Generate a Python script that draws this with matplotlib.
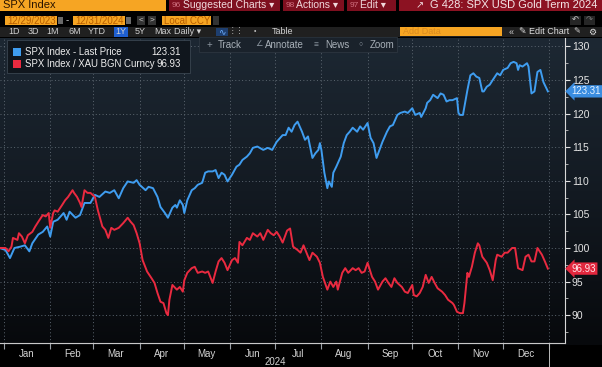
import numpy as np
import pandas as pd
import matplotlib
matplotlib.use('Agg')
import matplotlib.pyplot as plt
import matplotlib.dates as mdates
from matplotlib.patches import Rectangle
from matplotlib.colors import LinearSegmentedColormap
from matplotlib.transforms import blended_transform_factory

# data (days since 2024-01-01, rebased to 100)
blue_day = [-3, 1, 4, 7, 11, 14, 17, 19, 23, 26, 29, 31, 33, 36, 40, 42, 44, 48, 51, 54,
            58, 61, 64, 68, 71, 74, 77, 80, 83, 87, 89, 91, 95, 97, 100, 103, 105, 108, 110, 113,
            115, 116, 118, 120, 121, 123, 126, 128, 130, 133, 135, 137, 140, 142, 144, 146, 148, 150, 153, 156,
            158, 160, 163, 165, 167, 170, 174, 177, 180, 183, 187, 189, 191, 193, 195, 197, 200, 202, 204, 207,
            209, 211, 212, 213, 215, 217, 218, 220, 221, 223, 226, 228, 230, 232, 234, 237, 239, 241, 244, 246,
            248, 250, 252, 254, 257, 259, 261, 264, 266, 269, 271, 274, 276, 279, 280, 283, 284, 286, 288, 291,
            293, 295, 297, 299, 301, 304, 305, 306, 308, 311, 313, 315, 317, 319, 321, 322, 324, 326, 328, 331,
            333, 335, 338, 340, 342, 344, 345, 346, 348, 351, 352, 354, 356, 358, 360, 362, 365]
blue_val = [100.0, 99.7, 98.5, 100.0, 100.2, 100.4, 99.5, 100.7, 102.0, 102.4, 103.2, 101.7, 103.9, 104.2, 105.2, 104.2, 105.4, 104.5, 104.9, 106.7,
            106.7, 107.9, 107.6, 108.4, 108.2, 108.6, 107.4, 108.9, 109.9, 109.7, 110.1, 109.4, 108.6, 109.1, 108.9, 107.6, 106.1, 105.2, 104.5, 106.0,
            106.4, 106.0, 107.1, 106.4, 105.2, 107.1, 108.6, 108.9, 109.4, 109.7, 111.2, 111.4, 111.4, 111.6, 110.4, 111.2, 110.9, 109.9, 110.9, 112.1,
            112.4, 113.1, 113.6, 114.1, 114.9, 115.1, 114.6, 114.9, 114.6, 115.8, 116.8, 116.8, 117.9, 117.3, 118.3, 118.8, 117.3, 116.1, 116.6, 113.4,
            114.1, 114.6, 115.6, 114.6, 111.2, 108.9, 109.9, 109.1, 111.2, 112.1, 113.6, 115.6, 116.8, 117.3, 117.9, 117.3, 118.1, 117.6, 118.6, 116.4,
            115.6, 113.4, 114.6, 115.8, 117.3, 118.1, 118.3, 119.8, 120.1, 120.3, 120.1, 120.8, 119.8, 120.1, 119.5, 120.8, 121.6, 122.0, 122.8, 122.3,
            123.0, 122.8, 121.8, 122.0, 122.0, 122.3, 120.1, 119.8, 119.8, 123.5, 125.7, 126.0, 125.5, 125.3, 123.3, 123.3, 124.0, 124.3, 125.0, 126.0,
            125.7, 126.5, 126.8, 127.5, 127.7, 127.5, 126.5, 127.2, 127.0, 127.5, 127.0, 123.0, 123.3, 126.2, 126.5, 124.7, 123.31]

red_day = [-3, 1, 3, 5, 6, 9, 10, 12, 14, 16, 19, 21, 23, 26, 28, 30, 31, 33, 34, 36,
           39, 41, 43, 46, 47, 49, 51, 52, 54, 56, 58, 61, 63, 66, 68, 70, 72, 74, 77, 80,
           83, 85, 87, 89, 91, 93, 96, 99, 101, 103, 105, 107, 109, 110, 111, 113, 116, 118, 120, 121,
           123, 126, 128, 130, 133, 135, 137, 140, 142, 144, 146, 148, 150, 153, 155, 157, 158, 160, 163, 165,
           167, 170, 172, 174, 177, 179, 181, 183, 185, 187, 190, 192, 194, 197, 199, 201, 203, 205, 207, 210,
           212, 214, 217, 219, 221, 223, 224, 227, 229, 231, 234, 236, 238, 240, 242, 244, 247, 249, 251, 254,
           256, 258, 260, 262, 264, 267, 269, 271, 274, 275, 277, 279, 281, 283, 285, 287, 289, 291, 294, 296,
           298, 301, 302, 304, 306, 308, 309, 311, 312, 314, 316, 318, 319, 321, 324, 326, 328, 330, 331, 334,
           336, 338, 341, 343, 345, 348, 350, 352, 354, 356, 358, 361, 363, 365]
red_val = [100.0, 100.0, 99.5, 100.2, 101.5, 101.2, 102.2, 101.7, 100.7, 101.9, 102.4, 103.2, 103.9, 104.9, 104.7, 105.2, 103.0, 105.2, 105.6, 105.4,
           106.4, 107.1, 107.6, 108.6, 108.2, 107.6, 106.7, 106.1, 108.6, 108.2, 108.2, 107.6, 105.6, 103.2, 102.7, 101.5, 103.0, 102.7, 103.0, 103.7,
           104.5, 103.9, 103.4, 102.2, 100.7, 98.2, 96.5, 95.5, 94.8, 93.3, 92.0, 91.8, 90.3, 90.0, 92.3, 94.5, 93.8, 94.2, 93.5, 95.2,
           96.3, 97.0, 97.2, 96.3, 96.5, 96.3, 96.5, 94.8, 96.5, 98.0, 98.5, 97.8, 96.7, 98.2, 98.5, 97.8, 100.9, 100.4, 101.5, 101.2,
           102.2, 101.7, 102.2, 101.2, 102.7, 102.2, 101.9, 102.4, 101.7, 100.8, 102.6, 102.9, 100.2, 99.7, 99.3, 100.4, 99.3, 98.2, 99.3, 98.7,
           97.8, 95.7, 93.8, 95.0, 94.2, 95.0, 93.8, 96.3, 97.0, 96.3, 97.0, 96.7, 97.0, 96.3, 96.5, 97.8, 95.7, 95.0, 93.8, 95.0,
           95.5, 94.8, 94.2, 95.5, 94.8, 94.2, 93.5, 93.3, 94.5, 93.0, 92.8, 93.3, 94.2, 96.0, 94.8, 95.7, 94.8, 94.0, 93.5, 93.0,
           92.3, 91.8, 91.5, 90.5, 90.3, 90.3, 91.8, 96.3, 95.7, 97.2, 99.3, 100.7, 100.4, 98.7, 97.8, 96.7, 95.2, 98.2, 99.0, 98.7,
           99.3, 99.3, 100.0, 100.0, 97.0, 96.7, 98.7, 99.0, 98.0, 98.0, 100.0, 99.0, 98.0, 96.93]

blue_name = 'SPX Index - Last Price'
red_name = 'SPX Index / XAU BGN Curncy'
y_ticks = [90, 95, 100, 105, 110, 115, 120, 125, 130]

BLUE = '#3f9df0'
RED = '#ea2a40'
ORANGE = '#f6a523'
DARKRED = '#7e0f1f'
FONT = ['Liberation Sans', 'DejaVu Sans']
plt.rcParams['font.family'] = FONT

W, H = 602, 367
fig = plt.figure(figsize=(W / 100, H / 100), dpi=100, facecolor='black')


def box(x, y, w, h, color, ec='none', z=1):
    # rectangle in screen pixels (y from the top)
    fig.patches.append(Rectangle((x / W, 1 - (y + h) / H), w / W, h / H, transform=fig.transFigure,
                                 facecolor=color, edgecolor=ec, lw=0.6, zorder=z))


def txt(x, y, s, color='#d8d8d8', size=7, ha='left', **kw):
    fig.text(x / W, 1 - y / H, s, color=color, fontsize=size, ha=ha, va='center', zorder=5, **kw)


# chart panel background (gradient)
bg = fig.add_axes([0, 1 - 345 / H, 1, (345 - 38) / H], zorder=0)
cmap = LinearSegmentedColormap.from_list('bg', ['#1d2833', '#131a22', '#07090c'])
bg.imshow(np.linspace(0, 1, 256).reshape(-1, 1), cmap=cmap, aspect='auto', extent=[0, 1, 0, 1])
bg.set_axis_off()

# header row 1
box(0, 0, 166, 11, ORANGE)
txt(3, 5.5, 'SPX Index', color='#2a1400', size=8)
box(169, 0, 111, 11, DARKRED)
txt(172, 5.5, '96', color='#d07080', size=6)
txt(183, 5.5, 'Suggested Charts \u25be', color='#f0d8dc', size=7.5)
box(283, 0, 61, 11, DARKRED)
txt(286, 5.5, '98', color='#d07080', size=6)
txt(296, 5.5, 'Actions \u25be', color='#f0d8dc', size=7.5)
box(347, 0, 49, 11, DARKRED)
txt(350, 5.5, '97', color='#d07080', size=6)
txt(360, 5.5, 'Edit \u25be', color='#f0d8dc', size=7.5)
box(399, 0, 203, 11, '#8c1222')
txt(416, 5.5, '\u2197', color='#f0d8dc', size=7)
txt(430, 5.5, 'G 428: SPX USD Gold Term 2024', color='#f4e4e6', size=8)

# header row 2
box(5, 16, 52, 9, ORANGE)
txt(7, 20.5, '12/29/2023', color='#b85e00', size=7)
box(58, 17, 5, 7, '#6a6a6a')
txt(66, 20.5, '-', color='#cccccc', size=7)
box(73, 16, 52, 9, ORANGE)
txt(75, 20.5, '12/31/2024', color='#b85e00', size=7)
box(126, 17, 5, 7, '#6a6a6a')
box(137, 16, 8, 9, '#333333')
txt(141, 20.5, '<', color='#cccccc', size=6, ha='center')
box(148, 16, 8, 9, '#333333')
txt(152, 20.5, '>', color='#cccccc', size=6, ha='center')
box(162, 16, 49, 9, ORANGE)
txt(164, 20.5, 'Local CCY', color='#b85e00', size=7)
box(213, 16, 6, 9, '#333333')
box(570, 16, 11, 9, '#262626')
txt(575.5, 20.5, '\u21b6', color='#cccccc', size=6, ha='center')
box(584, 16, 11, 9, '#262626')
txt(589.5, 20.5, '\u21b7', color='#777777', size=6, ha='center')

# header row 3
box(0, 27, W, 10, '#202020')
for label, xp in zip(['1D', '3D', '1M', '6M', 'YTD', '1Y', '5Y', 'Max'],
                     [14, 33, 53, 75, 97, 121, 140, 163]):
    if label == '1Y':
        box(114, 27, 14, 10, '#1f5fd0')
    txt(xp, 32, label, color='#d0d0d0', size=6.5, ha='center')
txt(188, 32, 'Daily \u25be', color='#d0d0d0', size=6.5, ha='center')
box(216, 28, 12, 8, '#1e3f70')
txt(222, 32, '\u223f', color='#6fb0ff', size=6.5, ha='center')
txt(236, 32, '\u22ee\u22ee', color='#c0c0c0', size=5.5, ha='center')
txt(255, 32, '\u2022', color='#c0c0c0', size=5, ha='center')
txt(282, 32, 'Table', color='#d0d0d0', size=6.5, ha='center')
box(400, 27, 102, 9, ORANGE)
txt(403, 31.5, 'Add Data', color='#d98a20', size=6.5)
txt(509, 32, '\u00ab', color='#d0d0d0', size=6.5)
txt(519, 32, '\u270e Edit Chart', color='#e0e0e0', size=6.5)
txt(573, 32, '\u270e', color='#d0d0d0', size=6)
txt(588, 32, '\u2699', color='#e0e0e0', size=6.5)

# chart
ax = fig.add_axes([0, 1 - 343 / H, 565 / W, (343 - 38) / H], zorder=1)
ax.set_facecolor('none')
base = pd.Timestamp('2024-01-01')
blue_dates = base + pd.to_timedelta(blue_day, unit='D')
red_dates = base + pd.to_timedelta(red_day, unit='D')
ax.plot(blue_dates, blue_val, color=BLUE, lw=1.4, zorder=3)
ax.plot(red_dates, red_val, color=RED, lw=1.4, zorder=3)

ax.set_xlim(base - pd.Timedelta(days=2.7), base + pd.Timedelta(days=376.5))
ax.set_ylim(85.86, 131.25)

ax.xaxis.set_major_locator(mdates.MonthLocator())
ax.xaxis.set_major_formatter(plt.NullFormatter())
ax.xaxis.set_minor_locator(mdates.MonthLocator(bymonthday=16))
ax.xaxis.set_minor_formatter(mdates.DateFormatter('%b'))
ax.tick_params(axis='x', which='major', length=4, color='#9aa0a6', direction='out')
ax.tick_params(axis='x', which='minor', length=0, labelsize=7, labelcolor='#d4d4d4', pad=4)

ax.yaxis.tick_right()
ax.set_yticks(y_ticks)
ax.set_yticks(np.arange(87.5, 131, 5), minor=True)
ax.tick_params(axis='y', which='major', length=3.5, color='#e0e0e0', labelsize=7.5,
               labelcolor='#e4e4e4', pad=1.5)
ax.tick_params(axis='y', which='minor', length=2, color='#c0c0c0')

ax.grid(True, which='major', color='#5c6670', lw=0.7, linestyle=(0, (1, 2.5)))
for side in ['top', 'left']:
    ax.spines[side].set_visible(False)
ax.spines['bottom'].set_color('#c8c8c8')
ax.spines['right'].set_color('#d8d8d8')
ax.spines['bottom'].set_linewidth(0.8)
ax.spines['right'].set_linewidth(0.8)

# year label and year separators
trans = blended_transform_factory(ax.transData, ax.transAxes)
ax.text(mdates.date2num(pd.Timestamp('2024-07-01')), -0.063, '2024', transform=trans,
        ha='center', va='center', fontsize=7, color='#d4d4d4')
ax.plot([pd.Timestamp('2025-01-01')] * 2, [0, -0.08], transform=trans, color='#bbbbbb',
        lw=0.7, clip_on=False)

# last value tags
ax.text(1.012, blue_val[-1], f'{blue_val[-1]:.2f}', transform=ax.get_yaxis_transform(),
        fontsize=7, color='#e6f2ff', va='center', ha='left', zorder=6,
        bbox=dict(boxstyle='larrow,pad=0.12', fc='#3a8de0', ec='none'))
ax.text(1.012, red_val[-1], f'{red_val[-1]:.2f}', transform=ax.get_yaxis_transform(),
        fontsize=7, color='#ffe6ea', va='center', ha='left', zorder=6,
        bbox=dict(boxstyle='larrow,pad=0.12', fc='#e3283e', ec='none'))

# legend panel
box(7, 40, 183, 33, '#10161d', ec='#3a4550', z=2)
box(13, 48, 8, 8, BLUE, z=3)
txt(25, 52, blue_name, color='#eeeeee', size=6.9)
txt(181, 52, f'{blue_val[-1]:.2f}', color='#eeeeee', size=6.9, ha='right')
box(13, 60, 8, 8, RED, z=3)
txt(25, 64, red_name, color='#eeeeee', size=6.9)
txt(181, 64, f'{red_val[-1]:.2f}', color='#eeeeee', size=6.9, ha='right')

# floating toolbar
box(199, 37, 198, 15, '#1a222b', ec='#2c3640', z=2)
txt(207, 45, '+', color='#8a949e', size=7)
txt(218, 45, 'Track', color='#a8b0b8', size=7)
txt(255, 45, '\u2220', color='#8a949e', size=6)
txt(265, 45, 'Annotate', color='#a8b0b8', size=7)
txt(314, 45, '\u2261', color='#8a949e', size=6)
txt(325, 45, 'News', color='#a8b0b8', size=7)
txt(358, 45, '\u25cb', color='#8a949e', size=5)
txt(370, 45, 'Zoom', color='#a8b0b8', size=7)

fig.savefig('out.png', dpi=100, facecolor='black')
